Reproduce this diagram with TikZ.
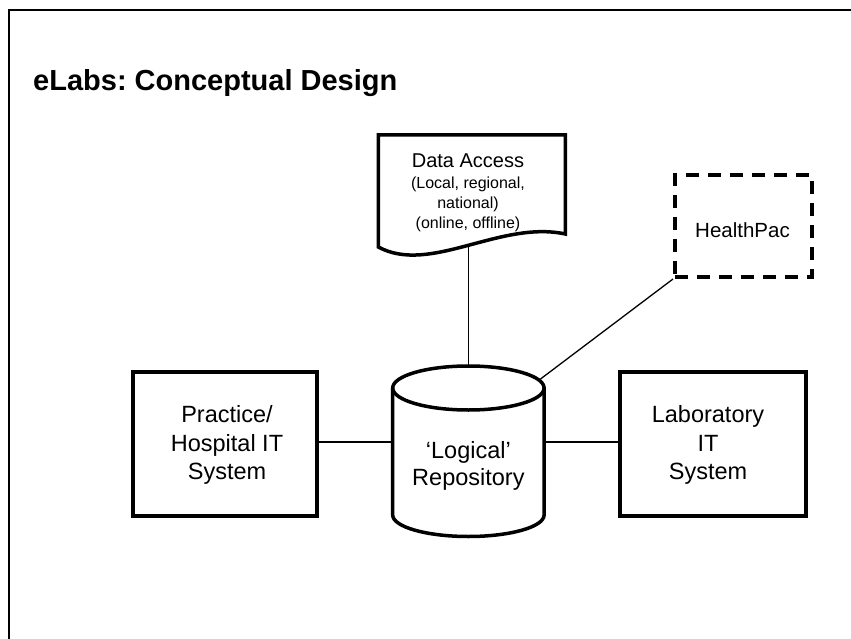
\documentclass[tikz,border=0pt]{standalone}
\usepackage{fontspec}
\setmainfont{Liberation Sans}
\frenchspacing
\begin{document}
\begin{tikzpicture}[x=1pt,y=-1pt,
  outline/.style={draw=black,line width=3.5pt,line join=miter},
  link/.style={draw=black,line width=1.3pt},
  boxstyle/.style={outline,rectangle,inner sep=0pt,align=center,
    font=\fontsize{23.5}{28.7}\selectfont},
  txt/.style={inner sep=0pt,align=center}]
\useasboundingbox (0,0) rectangle (851,639);
% frame
\draw[line width=2pt] (8.5,650) -- (8.5,10) -- (860,10);
% title
\node[anchor=base west,inner sep=0pt,font=\bfseries\fontsize{29}{34}\selectfont] (title) at (33,91) {eLabs: Conceptual Design};
% Data access document
\draw[outline] (378.3,247) -- (378.3,135) -- (565.3,135) -- (565.3,234)
  .. controls (500,220) and (430,275) .. (378.3,247) -- cycle;
\node[txt,font=\fontsize{20}{24}\selectfont] (da) at (468,161) {Data Access};
\node[txt,font=\fontsize{16}{20}\selectfont] (dasub) at (468,204) {(Local, regional,\\national)\\(online, offline)};
\coordinate (dabot) at (468.3,245.5);
% HealthPac
\node[outline,line width=4pt,dash pattern=on 13pt off 9pt,rectangle,minimum width=137pt,minimum height=102pt,inner sep=0pt] (hp) at (743.5,226) {};
\node[txt,font=\fontsize{20.5}{24}\selectfont] (hptext) at (742.5,230) {HealthPac};
% cylinder
\draw[outline] (392.7,388) -- (392.7,515) arc[start angle=180,end angle=360,x radius=75.7pt,y radius=21.5pt] -- (544.1,388);
\draw[outline] (468.4,388) ellipse [x radius=75.7pt,y radius=22pt];
\node[txt,font=\fontsize{23.5}{27.6}\selectfont] (repo) at (468.4,466) {‘Logical’\\Repository};
\coordinate (repotop) at (468.3,366);
\coordinate (repoNE) at (540.5,379);
\coordinate (repoW) at (392.7,442);
\coordinate (repoE) at (544.1,442);
% side boxes
\node[boxstyle,minimum width=184pt,minimum height=144pt] (prac) at (225,444) {};
\node[txt,font=\fontsize{23.5}{28.7}\selectfont] (practext) at (227,445) {Practice/\\Hospital IT\\System};
\node[boxstyle,minimum width=186pt,minimum height=144pt] (lab) at (713,444) {};
\node[txt,font=\fontsize{23.5}{28.7}\selectfont] (labtext) at (708,445) {Laboratory\\IT\\System};
% connectors
\draw[link] (dabot) -- (repotop);
\draw[link] (hp.south west) -- (repoNE);
\draw[link] (prac.east |- repoW) -- (repoW);
\draw[link] (repoE) -- (lab.west |- repoE);
\end{tikzpicture}
\end{document}
